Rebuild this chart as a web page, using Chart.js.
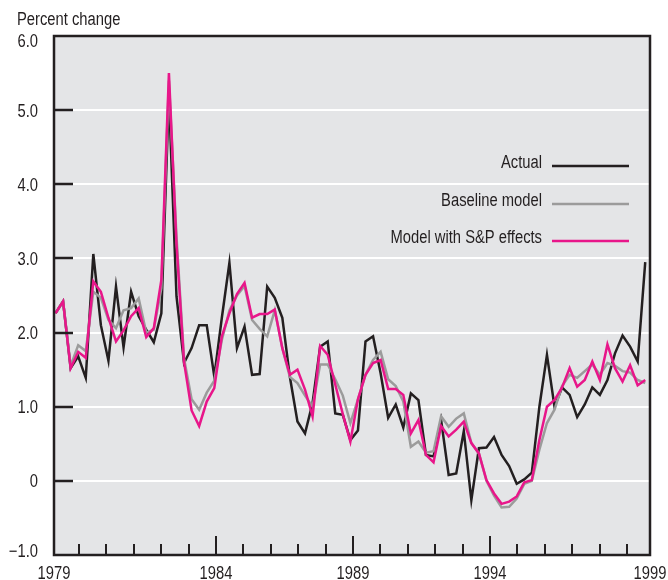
<!DOCTYPE html>
<html lang="en">
<head>
<meta charset="utf-8">
<title>Percent change</title>
<script src="https://cdn.jsdelivr.net/npm/chart.js@4.4.1/dist/chart.umd.min.js"></script>
<style>
  html, body { margin: 0; padding: 0; background: #ffffff; }
  #chart { display: block; }
</style>
</head>
<body>
<canvas id="chart" width="668" height="580"></canvas>
<script>
// Quarterly observations, 1979 Q1 through 1998 Q3
const quarters = [];
for (let y = 1979; y <= 1998; y++) {
  for (let q = 1; q <= 4; q++) {
    if (quarters.length < 79) quarters.push(y + ' Q' + q);
  }
}

const actual = [
  2.26, 2.42, 1.52, 1.68, 1.39, 3.06, 2.10, 1.62, 2.62, 1.80,
  2.55, 2.22, 2.04, 1.87, 2.26, 5.20, 2.49, 1.59, 1.79, 2.10,
  2.10, 1.41, 2.20, 2.94, 1.79, 2.08, 1.43, 1.44, 2.62, 2.47,
  2.20, 1.40, 0.80, 0.64, 1.05, 1.81, 1.88, 0.91, 0.89, 0.55,
  0.68, 1.88, 1.95, 1.45, 0.85, 1.03, 0.72, 1.18, 1.09, 0.35,
  0.33, 0.82, 0.08, 0.10, 0.67, -0.26, 0.44, 0.45, 0.59, 0.35,
  0.20, -0.04, 0.02, 0.11, 1.00, 1.70, 1.00, 1.26, 1.16, 0.86,
  1.03, 1.26, 1.16, 1.36, 1.72, 1.96, 1.81, 1.61, 2.95
];

const baseline = [
  2.26, 2.42, 1.55, 1.83, 1.75, 2.55, 2.47, 2.17, 2.06, 2.30,
  2.33, 2.46, 2.00, 2.04, 2.60, 5.40, 3.30, 1.65, 1.10, 0.96,
  1.19, 1.35, 1.90, 2.30, 2.50, 2.63, 2.17, 2.05, 1.95, 2.30,
  1.79, 1.40, 1.32, 1.15, 1.00, 1.57, 1.57, 1.37, 1.15, 0.78,
  1.10, 1.43, 1.63, 1.74, 1.37, 1.28, 1.07, 0.46, 0.53, 0.38,
  0.40, 0.87, 0.73, 0.84, 0.91, 0.51, 0.37, 0.00, -0.20, -0.36,
  -0.35, -0.24, -0.04, 0.00, 0.42, 0.78, 0.96, 1.28, 1.43, 1.39,
  1.48, 1.57, 1.43, 1.59, 1.55, 1.48, 1.46, 1.36, 1.32
];

const withSP = [
  2.26, 2.42, 1.52, 1.74, 1.66, 2.69, 2.55, 2.20, 1.88, 2.03,
  2.22, 2.33, 1.94, 2.06, 2.71, 5.50, 3.20, 1.60, 0.95, 0.74,
  1.07, 1.25, 1.95, 2.26, 2.52, 2.67, 2.20, 2.25, 2.25, 2.31,
  1.79, 1.43, 1.50, 1.23, 0.87, 1.82, 1.70, 1.30, 0.90, 0.53,
  1.10, 1.43, 1.59, 1.63, 1.24, 1.24, 1.16, 0.64, 0.82, 0.35,
  0.25, 0.74, 0.60, 0.69, 0.80, 0.51, 0.37, 0.01, -0.17, -0.31,
  -0.28, -0.21, -0.02, 0.01, 0.55, 1.00, 1.09, 1.26, 1.52, 1.27,
  1.36, 1.61, 1.36, 1.84, 1.52, 1.34, 1.56, 1.29, 1.36
];

const yearLabels = ['1979', '1984', '1989', '1994', '1999'];

const FONT = '18px "Liberation Sans", Arial, sans-serif';
const NARROW = 0.82;          // horizontal squeeze for a condensed face
const INK = '#231f20';
const PANEL = '#e4e5e7';

// Year tick marks along the bottom edge (in quarter-index units)
const TICK_FIRST = 3.107;
const TICK_STEP = 3.624;
const TICK_COUNT = 21;

const toPoints = arr => arr.map((v, i) => ({ x: i, y: v }));

function fmtY(v) {
  if (v === 0) return '0';
  return (v < 0 ? '\u2212' : '') + Math.abs(v).toFixed(1);
}

// Draws condensed text; align is 'left' | 'center' | 'right'
function narrowText(ctx, text, x, y, align) {
  ctx.font = FONT;
  const w = ctx.measureText(text).width * NARROW;
  let left = x;
  if (align === 'center') left = x - w / 2;
  else if (align === 'right') left = x - w;
  ctx.save();
  ctx.translate(left, y);
  ctx.scale(NARROW, 1);
  ctx.textAlign = 'left';
  ctx.textBaseline = 'alphabetic';
  ctx.fillText(text, 0, 0);
  ctx.restore();
}

const decor = {
  id: 'decor',
  beforeDraw(chart) {
    const { ctx, chartArea: a } = chart;
    ctx.save();
    ctx.fillStyle = PANEL;
    ctx.fillRect(a.left, a.top, a.right - a.left, a.bottom - a.top);
    ctx.restore();
  },
  afterDatasetsDraw(chart) {
    const { ctx, chartArea: a, scales: { x, y } } = chart;
    ctx.save();
    ctx.strokeStyle = INK;
    ctx.lineCap = 'butt';

    // inward ticks on the value axis
    ctx.lineWidth = 2.5;
    y.ticks.forEach(t => {
      if (t.value > y.min && t.value < y.max) {
        const py = Math.round(y.getPixelForValue(t.value));
        ctx.beginPath();
        ctx.moveTo(a.left, py);
        ctx.lineTo(a.left + 19, py);
        ctx.stroke();
      }
    });

    // year ticks, longer at the labelled years
    ctx.lineWidth = 2;
    for (let k = 0; k < TICK_COUNT; k++) {
      const px = Math.round(x.getPixelForValue(TICK_FIRST + k * TICK_STEP));
      const major = k % 5 === 0 && k > 0 && k < 20;
      ctx.beginPath();
      ctx.moveTo(px, a.bottom);
      ctx.lineTo(px, a.bottom - (major ? 19 : 11));
      ctx.stroke();
    }

    // frame
    ctx.lineWidth = 2.5;
    ctx.strokeRect(a.left, a.top, a.right - a.left, a.bottom - a.top);
    ctx.restore();
  },
  afterDraw(chart) {
    const { ctx, chartArea: a, scales: { x, y } } = chart;
    ctx.save();
    ctx.fillStyle = INK;

    // axis title
    narrowText(ctx, 'Percent change', 17, 25, 'left');

    // value labels
    y.ticks.forEach(t => {
      let py = y.getPixelForValue(t.value) + 6.5;
      if (t.value === y.max) py += 4.5;
      if (t.value === y.min) py -= 5;
      narrowText(ctx, fmtY(t.value), a.left - 16, py, 'right');
    });

    // year labels
    const spots = [
      x.min,
      TICK_FIRST + 5 * TICK_STEP,
      TICK_FIRST + 10 * TICK_STEP,
      TICK_FIRST + 15 * TICK_STEP,
      x.max
    ];
    yearLabels.forEach((lab, i) => {
      narrowText(ctx, lab, x.getPixelForValue(spots[i]), 579, 'center');
    });

    // legend: label text followed by a line sample
    const rows = [166, 204, 241];
    chart.data.datasets.forEach((ds, i) => {
      const ly = rows[i];
      ctx.fillStyle = INK;
      narrowText(ctx, ds.label, 542, ly + 1.5, 'right');
      ctx.strokeStyle = ds.borderColor;
      ctx.lineWidth = 2.5;
      ctx.beginPath();
      ctx.moveTo(552, ly);
      ctx.lineTo(629, ly);
      ctx.stroke();
    });
    ctx.restore();
  }
};

const lineStyle = {
  borderWidth: 2.5,
  pointRadius: 0,
  pointHoverRadius: 0,
  tension: 0,
  fill: false,
  borderJoinStyle: 'miter',
  borderCapStyle: 'butt'
};

new Chart(document.getElementById('chart'), {
  type: 'line',
  data: {
    labels: quarters,
    datasets: [
      Object.assign({ label: 'Actual', data: toPoints(actual), borderColor: '#231f20', order: 3 }, lineStyle),
      Object.assign({ label: 'Baseline model', data: toPoints(baseline), borderColor: '#9b9b9b', order: 2 }, lineStyle),
      Object.assign({ label: 'Model with S&P effects', data: toPoints(withSP), borderColor: '#e8168a', order: 1 }, lineStyle)
    ]
  },
  options: {
    responsive: false,
    animation: false,
    devicePixelRatio: 1,
    layout: { padding: { top: 36, right: 18, left: 0, bottom: 0 } },
    plugins: { legend: { display: false }, tooltip: { enabled: false }, title: { display: false } },
    scales: {
      x: {
        type: 'linear',
        min: -0.2,
        max: 78.63,
        ticks: { display: false },
        grid: { display: false },
        border: { display: false },
        afterFit: s => { s.height = 25; }
      },
      y: {
        min: -1,
        max: 6,
        ticks: { stepSize: 1, display: false },
        grid: {
          drawTicks: false,
          lineWidth: 2,
          color: c => (c.tick && c.tick.value > -1 && c.tick.value < 6) ? '#ffffff' : 'rgba(0,0,0,0)'
        },
        border: { display: false },
        afterFit: s => { s.width = 54; }
      }
    }
  },
  plugins: [decor]
});
</script>
</body>
</html>
